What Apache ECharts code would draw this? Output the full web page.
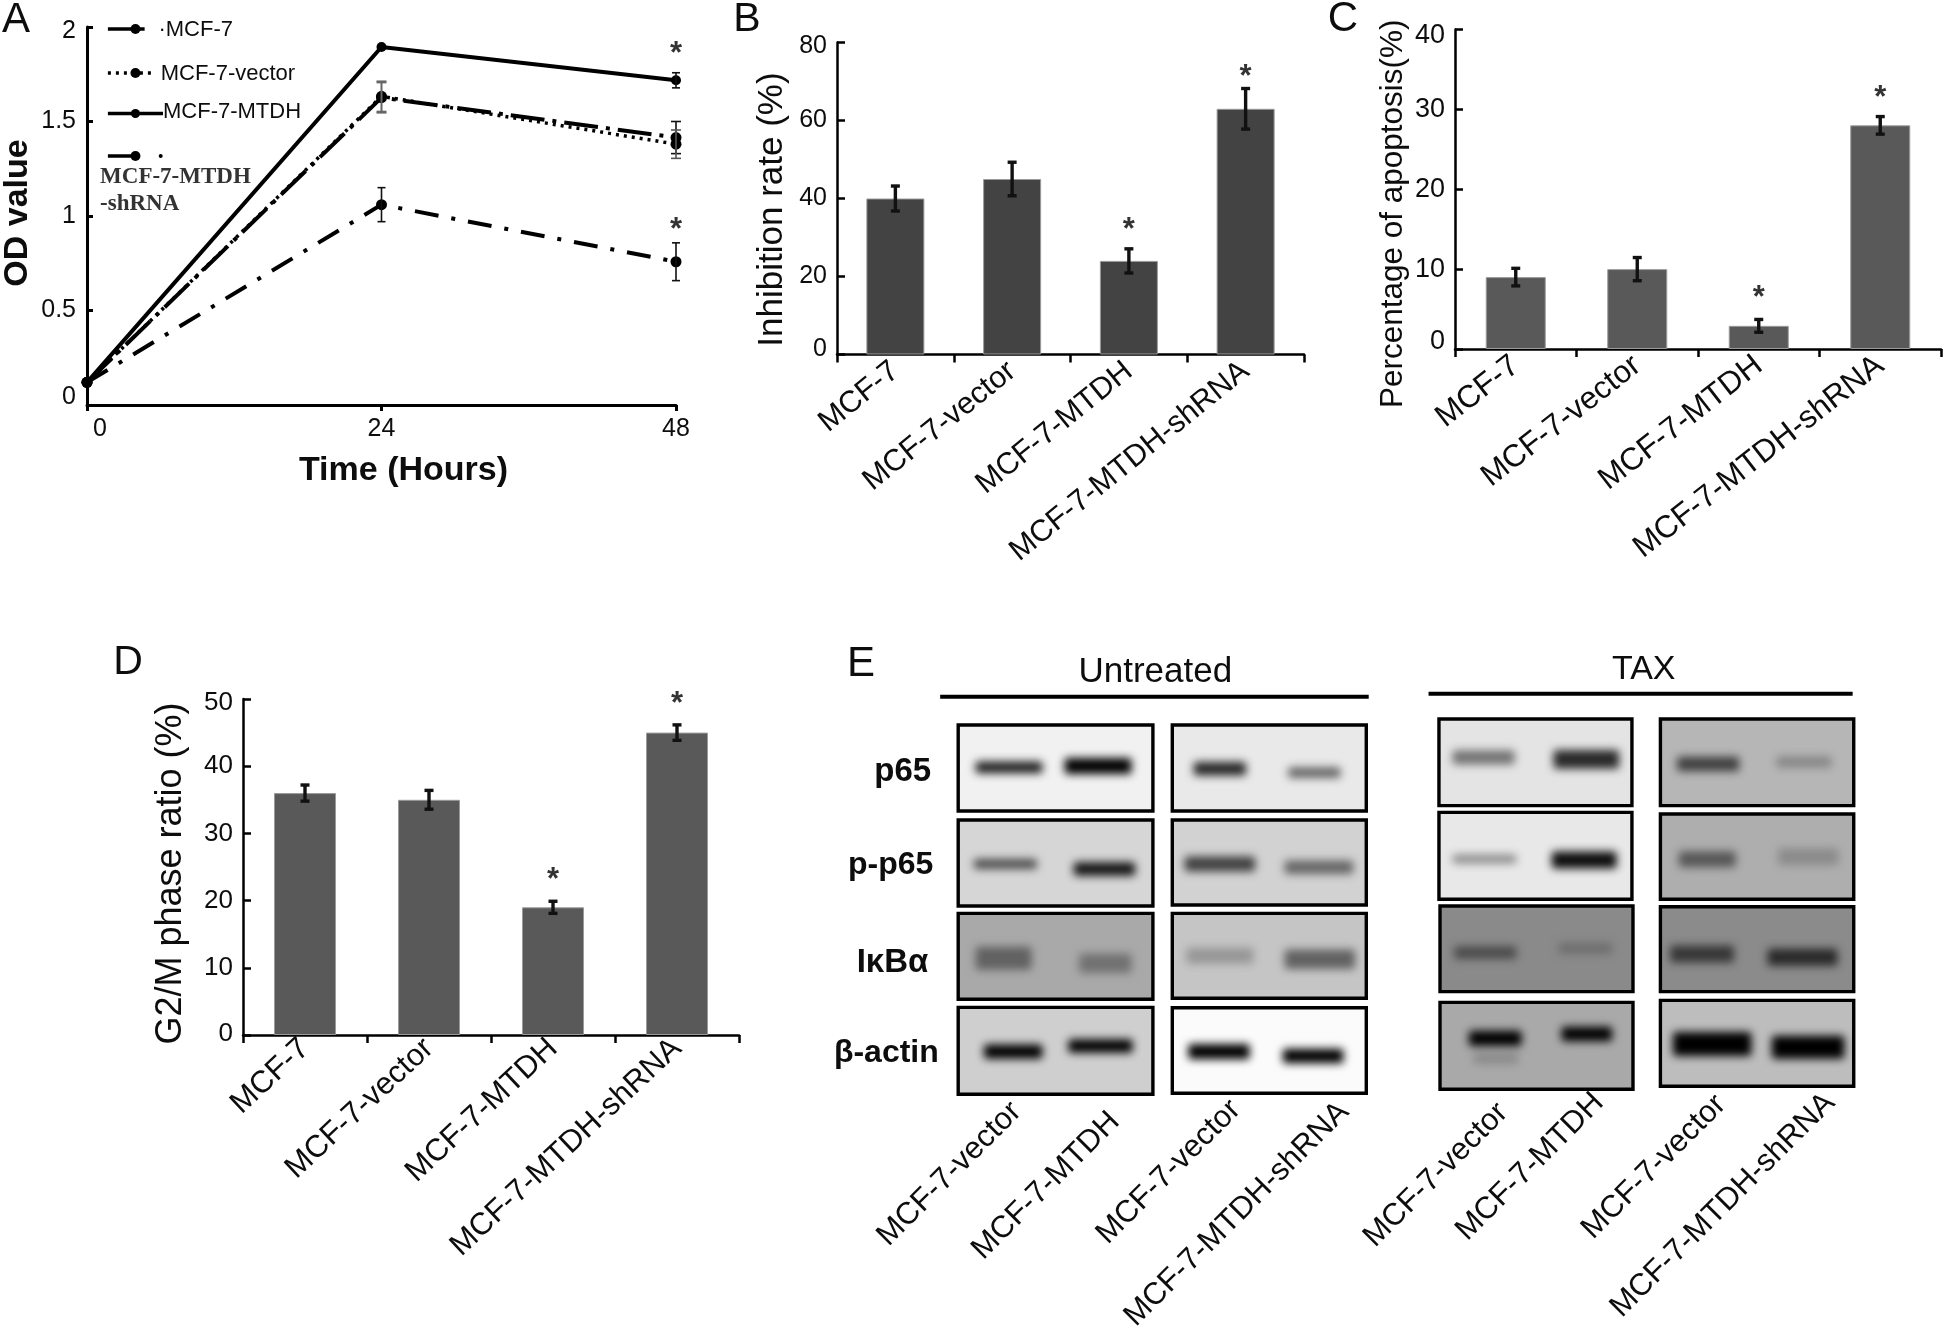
<!DOCTYPE html>
<html>
<head>
<meta charset="utf-8">
<style>html,body{margin:0;padding:0;background:#fff}#c{width:1946px;height:1344px}</style>
<script src="https://cdn.jsdelivr.net/npm/echarts@6/dist/echarts.min.js"></script>
</head>
<body>
<div id="c"></div>
<script>
// ---------- data ----------
const categories = ['MCF-7', 'MCF-7-vector', 'MCF-7-MTDH', 'MCF-7-MTDH-shRNA'];

const timeHours = [0, 24, 48];
const odMcf7 = [0.12, 1.626, 1.415];
const odVector = [0.12, 1.633, 1.38];
const odMtdh = [0.12, 1.894, 1.718];
const odShRna = [0.12, 1.06, 0.758];
const odMcf7Err = [0, 0.08, 0.085];
const odVectorErr = [0, 0.08, 0.075];
const odMtdhErr = [0, 0, 0.04];
const odShRnaErr = [0, 0.09, 0.1];
const odStars = [[48, 1.88], [48, 0.95]];

const inhibition = [40, 45, 24, 63];
const inhibitionErr = [3.2, 4.3, 3.1, 5.2];
const inhibitionStars = [[2, 33.2], [3, 72.2]];

const apoptosis = [9, 10, 2.9, 28];
const apoptosisErr = [1.1, 1.45, 0.8, 1.1];
const apoptosisStars = [[2, 7], [3, 32]];

const g2m = [36, 35, 19, 45];
const g2mErr = [1.2, 1.4, 0.9, 1.15];
const g2mStars = [[2, 23.7], [3, 50]];

// ---------- helpers ----------
const FONT = '"Liberation Sans", Arial, sans-serif';
const INK = '#0d0d0d';
const chart = echarts.init(document.getElementById('c'));

function errorSeries(gi, rows, opt) {
  opt = opt || {};
  return {
    type: 'custom', xAxisIndex: gi, yAxisIndex: gi, z: 5, silent: true,
    encode: { x: 0, y: [1, 2] },
    data: rows,
    renderItem(params, api) {
      const a = api.coord([api.value(0), api.value(1)]);
      const b = api.coord([api.value(0), api.value(2)]);
      const cap = opt.cap || 4.5;
      const color = (opt.colors && opt.colors[api.value(0)]) || opt.color || '#111';
      const lw = opt.width || 3;
      const style = { stroke: color, lineWidth: lw, fill: null };
      return { type: 'group', children: [
        { type: 'line', shape: { x1: a[0], y1: a[1], x2: b[0], y2: b[1] }, style },
        { type: 'line', shape: { x1: a[0] - cap, y1: a[1], x2: a[0] + cap, y2: a[1] }, style },
        { type: 'line', shape: { x1: b[0] - cap, y1: b[1], x2: b[0] + cap, y2: b[1] }, style }
      ]};
    }
  };
}
function rows(xs, vals, errs) {
  return vals.map((v, i) => [xs[i], v - errs[i], v + errs[i]]);
}
function starSeries(gi, data) {
  return {
    type: 'scatter', xAxisIndex: gi, yAxisIndex: gi, symbolSize: 0, z: 6, silent: true, clip: false,
    data,
    label: { show: true, position: 'inside', formatter: '*', color: '#000', fontFamily: FONT,
             fontWeight: 'bold', fontSize: 31, offset: [0, 5] }
  };
}
function barPanel(gi, values, errs, stars, color) {
  const idx = values.map((_, i) => i);
  return [
    { type: 'bar', xAxisIndex: gi, yAxisIndex: gi, data: values, barWidth: gi === 3 ? 62 : (gi === 2 ? 60 : 58),
      itemStyle: { color, borderColor: '#9a9a9a', borderWidth: 1 }, silent: true },
    errorSeries(gi, rows(idx, values, errs), { cap: 4.5, width: 3.4 }),
    starSeries(gi, stars)
  ];
}
function catAxis(gi, rotate, fontSize, padTop, margin) {
  return {
    type: 'category', gridIndex: gi, data: categories,
    axisLine: { lineStyle: { color: '#000', width: 2.5 } },
    axisTick: { show: true, alignWithLabel: false, length: 8, lineStyle: { color: '#000', width: 2.5 } },
    axisLabel: { interval: 0, rotate, fontSize, color: INK, fontFamily: FONT, margin, padding: [padTop, 0, 0, 0] }
  };
}
function valAxis(gi, max, interval, name, nameGap, namePad, fontSize, nameSize, topPad, bottomPad) {
  const base = { fontSize, color: INK, fontFamily: FONT };
  return {
    type: 'value', gridIndex: gi, min: 0, max, interval, name, nameLocation: 'middle', nameGap,
    nameTextStyle: { fontSize: nameSize, color: INK, fontFamily: FONT, padding: namePad },
    splitLine: { show: false },
    axisLine: { show: true, lineStyle: { color: '#000', width: 2.5 } },
    axisTick: { show: true, inside: true, length: 8, lineStyle: { color: '#000', width: 2.5 } },
    axisLabel: { fontSize, color: INK, fontFamily: FONT, margin: 10,
      formatter: v => v === 0 ? '{b|0}' : v === max ? '{t|' + v + '}' : String(v),
      rich: { b: Object.assign({ padding: [0, 0, bottomPad, 0] }, base),
              t: Object.assign({ padding: [topPad, 0, 0, 0] }, base) } }
  };
}

// ---------- panel E (western blots) layout ----------
const ux = x => 830 + x / 2.751, uy = y => 640 + y / 3;
const tx = x => 1400 + x / 2.872, ty = y => 640 + y / 3;

const blotsUntreated = [
  { box: [348, 893, 250, 518], bg: '#f1f1f1', bands: [[395, 590, 382, 34, '#1f1f1f'], [640, 835, 378, 44, '#030303']] },
  { box: [348, 893, 535, 803], bg: '#d6d6d6', bands: [[390, 575, 672, 30, '#4c4c4c'], [665, 845, 687, 38, '#141414']] },
  { box: [348, 893, 815, 1083], bg: '#a9a9a9', bands: [[395, 560, 955, 60, '#626262'], [680, 835, 970, 52, '#727272']] },
  { box: [348, 893, 1097, 1368], bg: '#cfcfcf', bands: [[418, 590, 1235, 40, '#000'], [650, 838, 1218, 38, '#000']] },
  { box: [937, 1480, 250, 518], bg: '#e9e9e9', bands: [[995, 1150, 386, 38, '#262626'], [1255, 1410, 398, 32, '#666']] },
  { box: [937, 1480, 535, 800], bg: '#d2d2d2', bands: [[970, 1175, 672, 42, '#414141'], [1245, 1445, 682, 38, '#666']] },
  { box: [937, 1480, 815, 1080], bg: '#c5c5c5', bands: [[975, 1170, 947, 44, '#979797'], [1245, 1450, 958, 52, '#626262']] },
  { box: [937, 1480, 1098, 1365], bg: '#fbfbfb', bands: [[980, 1160, 1235, 42, '#000'], [1240, 1418, 1248, 40, '#000']] }
];
const blotsTax = [
  { box: [107, 671, 232, 502], bg: '#e4e4e4', bands: [[145, 335, 352, 40, '#737373'], [435, 635, 358, 50, '#2a2a2a']] },
  { box: [107, 671, 512, 783], bg: '#e8e8e8', bands: [[145, 340, 657, 28, '#8c8c8c'], [430, 628, 660, 46, '#0e0e0e']] },
  { box: [110, 674, 793, 1060], bg: '#8a8a8a', bands: [[150, 340, 938, 36, '#4c4c4c'], [450, 615, 925, 32, '#6e6e6e']] },
  { box: [110, 674, 1082, 1353], bg: '#a9a9a9', bands: [[205, 345, 1255, 32, '#8a8a8a'], [192, 355, 1195, 42, '#000'], [458, 615, 1182, 40, '#000']] },
  { box: [743, 1308, 232, 502], bg: '#b6b6b6', bands: [[790, 980, 372, 40, '#404040'], [1075, 1245, 366, 34, '#888']] },
  { box: [743, 1308, 517, 783], bg: '#aeaeae', bands: [[795, 970, 658, 44, '#585858'], [1080, 1265, 650, 46, '#8c8c8c']] },
  { box: [743, 1308, 795, 1060], bg: '#8b8b8b', bands: [[770, 965, 942, 46, '#383838'], [1050, 1262, 952, 46, '#2a2a2a']] },
  { box: [743, 1308, 1076, 1344], bg: '#bdbdbd', bands: [[778, 1015, 1212, 62, '#000'], [1062, 1282, 1222, 60, '#000']] }
];

function txt(text, x, y, o) {
  o = o || {};
  return { type: 'text', x, y, rotation: o.rot || 0, silent: true, z: 20,
    style: { text, fill: o.fill || INK, fontFamily: o.family || FONT, fontSize: o.size || 30,
      fontWeight: o.weight || 'normal', fontStyle: o.style || 'normal',
      textAlign: o.align || 'center', textVerticalAlign: 'middle' } };
}
function blotElements(list, fx, fy) {
  const out = [];
  const OFF = 3000;
  list.forEach(p => {
    const [x1, x2, y1, y2] = p.box;
    out.push({ type: 'rect', silent: true, z: 10,
      shape: { x: fx(x1) + 1.7, y: fy(y1) + 1.7, width: fx(x2) - fx(x1) - 3.4, height: fy(y2) - fy(y1) - 3.4 },
      style: { fill: p.bg, stroke: '#000', lineWidth: 3.4 } });
    p.bands.forEach(b => {
      const h = b[3] / 3 * 1.3, blur = 8;
      out.push({ type: 'rect', silent: true, z: 11,
        shape: { x: fx(b[0]) + 2 - OFF, y: fy(b[2]) - h / 2 + 1.5, width: fx(b[1]) - fx(b[0]) - 4, height: h - 3, r: 3 },
        style: { fill: b[4], shadowColor: b[4], shadowBlur: blur, shadowOffsetX: OFF } });
    });
  });
  return out;
}

// ---------- graphic annotations ----------
const lx = x => x / 2.178;
const graphic = [
  // panel letters
  txt('A', 16, 20, { size: 42 }), txt('B', 747, 20, { size: 41 }), txt('C', 1343, 19, { size: 42 }),
  txt('D', 128, 663, { size: 41 }), txt('E', 861, 664, { size: 42 }),

  // panel A legend
  { type: 'line', silent: true, z: 20, shape: { x1: lx(235), y1: 29, x2: lx(315), y2: 29 }, style: { stroke: '#000', lineWidth: 3.5 } },
  { type: 'circle', silent: true, z: 20, shape: { cx: lx(295), cy: 29, r: 5 }, style: { fill: '#000' } },
  txt('·MCF-7', lx(345), 30, { size: 22, align: 'left' }),
  { type: 'line', silent: true, z: 20, shape: { x1: lx(235), y1: 73, x2: lx(335), y2: 73 }, style: { stroke: '#000', lineWidth: 3.5, lineDash: [3, 5] } },
  { type: 'circle', silent: true, z: 20, shape: { cx: lx(295), cy: 73, r: 5 }, style: { fill: '#000' } },
  txt('MCF-7-vector', lx(350), 74, { size: 22, align: 'left' }),
  { type: 'line', silent: true, z: 20, shape: { x1: lx(235), y1: 113.5, x2: lx(355), y2: 113.5 }, style: { stroke: '#000', lineWidth: 3.5 } },
  { type: 'circle', silent: true, z: 20, shape: { cx: lx(295), cy: 113.5, r: 4.5 }, style: { fill: '#000' } },
  txt('MCF-7-MTDH', lx(355), 112, { size: 22, align: 'left' }),
  { type: 'line', silent: true, z: 20, shape: { x1: lx(235), y1: 156, x2: lx(290), y2: 156 }, style: { stroke: '#000', lineWidth: 3.5 } },
  { type: 'circle', silent: true, z: 20, shape: { cx: lx(295), cy: 156, r: 5 }, style: { fill: '#000' } },
  { type: 'circle', silent: true, z: 20, shape: { cx: lx(350), cy: 156, r: 2 }, style: { fill: '#000' } },
  txt('MCF-7-MTDH', lx(218), 177, { size: 23, align: 'left', weight: 'bold', family: '"Liberation Serif", serif', fill: '#333' }),
  txt('-shRNA', lx(218), 204, { size: 23, align: 'left', weight: 'bold', family: '"Liberation Serif", serif', fill: '#333' }),

  // panel E headers
  txt('Untreated', ux(895), uy(90) + 2, { size: 35 }),
  { type: 'line', silent: true, z: 20, shape: { x1: ux(303), y1: uy(170), x2: ux(1482), y2: uy(170) }, style: { stroke: '#000', lineWidth: 4 } },
  txt('TAX', tx(700), ty(85) + 1, { size: 34 }),
  { type: 'line', silent: true, z: 20, shape: { x1: tx(82), y1: ty(161), x2: tx(1300), y2: ty(161) }, style: { stroke: '#000', lineWidth: 4 } },

  ...blotElements(blotsUntreated, ux, uy),
  ...blotElements(blotsTax, tx, ty),

  // panel E row labels
  txt('p65', ux(200), uy(395), { size: 33, weight: 'bold' }),
  txt('p-p65', ux(167), uy(675), { size: 32, weight: 'bold' }),
  txt('IκBα', ux(172), uy(970), { size: 33, weight: 'bold' }),
  txt('β-actin', ux(155), uy(1240), { size: 32, weight: 'bold' })
];

// panel E lane labels, right end of each rotated text
const laneLabels = [
  ['MCF-7-vector', 1016.5, 1107], ['MCF-7-MTDH', 1114.7, 1117], ['MCF-7-vector', 1235.7, 1105], ['MCF-7-MTDH-shRNA', 1344, 1107],
  ['MCF-7-vector', 1503, 1108], ['MCF-7-MTDH', 1598.7, 1098], ['MCF-7-vector', 1721, 1100], ['MCF-7-MTDH-shRNA', 1830, 1098]
];
laneLabels.forEach(l => graphic.push(txt(l[0], l[1], l[2], { size: 31, align: 'right', rot: Math.PI / 4 })));

// ---------- grids ----------
const grids = [
  { left: 87, top: 27, width: 589, height: 378 },
  { left: 837, top: 42.5, width: 467, height: 312 },
  { left: 1455, top: 29.5, width: 486, height: 319.5 },
  { left: 243, top: 699, width: 496, height: 336 }
];

const axisTickA = { show: true, lineStyle: { color: '#000', width: 3 } };
const option = {
  animation: false,
  backgroundColor: '#fff',
  textStyle: { fontFamily: FONT },
  grid: grids,
  xAxis: [
    { type: 'value', gridIndex: 0, min: 0, max: 48, interval: 24, splitLine: { show: false },
      name: 'Time (Hours)', nameLocation: 'middle', nameGap: 49,
      nameTextStyle: { fontSize: 34, fontWeight: 'bold', color: INK, fontFamily: FONT, padding: [0, 0, 0, 44] },
      axisLine: { lineStyle: { color: '#000', width: 3 } },
      axisTick: Object.assign({ length: 6 }, axisTickA),
      axisLabel: { fontSize: 25, color: INK, fontFamily: FONT, margin: 12,
        formatter: v => v === 0 ? '{z|0}' : String(v),
        rich: { z: { fontSize: 25, color: INK, fontFamily: FONT, padding: [0, 0, 0, 26] } } } },
    catAxis(1, 39, 30.5, 11, 13), catAxis(2, 38, 31.5, 34, 13), catAxis(3, 43, 31, 15, 9)
  ],
  yAxis: [
    { type: 'value', gridIndex: 0, min: 0, max: 2, interval: 0.5, splitLine: { show: false },
      name: 'OD value', nameLocation: 'middle', nameGap: 52,
      nameTextStyle: { fontSize: 34, fontWeight: 'bold', color: INK, fontFamily: FONT, padding: [0, 0, 0, 6] },
      axisLine: { show: true, lineStyle: { color: '#000', width: 3 } },
      axisTick: Object.assign({ length: 6, inside: true }, axisTickA),
      axisLabel: { fontSize: 25, color: INK, fontFamily: FONT, margin: 11,
        formatter: v => v === 0 ? '{b|0}' : v === 2 ? '{t|2}' : String(v),
        rich: { b: { fontSize: 25, color: INK, fontFamily: FONT, padding: [0, 0, 16, 0] },
                t: { fontSize: 25, color: INK, fontFamily: FONT, padding: [8, 0, 0, 0] } } } },
    valAxis(1, 80, 20, 'Inhibition rate (%)', 47, [0, 22, 0, 0], 25, 35, 8, 10),
    valAxis(2, 40, 10, 'Percentage of apoptosis(%)', 46, [0, 49, 0, 0], 27, 31.5, 12, 14),
    valAxis(3, 50, 10, 'G2/M phase ratio (%)', 54, [0, 13, 0, 0], 26, 36, 8, 2)
  ],
  graphic: { elements: graphic },
  series: [
    { name: 'MCF-7', type: 'line', xAxisIndex: 0, yAxisIndex: 0, data: timeHours.map((t, i) => [t, odMcf7[i]]),
      symbol: 'circle', symbolSize: 11, clip: false, itemStyle: { color: '#000' },
      lineStyle: { color: '#000', width: 4, type: [34, 8, 4, 8] } },
    { name: 'MCF-7-vector', type: 'line', xAxisIndex: 0, yAxisIndex: 0, data: timeHours.map((t, i) => [t, odVector[i]]),
      symbol: 'circle', symbolSize: 11, clip: false, itemStyle: { color: '#000' },
      lineStyle: { color: '#000', width: 3.5, type: [3, 5] } },
    { name: 'MCF-7-MTDH', type: 'line', xAxisIndex: 0, yAxisIndex: 0, data: timeHours.map((t, i) => [t, odMtdh[i]]),
      symbol: 'circle', symbolSize: 10, clip: false, itemStyle: { color: '#000' },
      lineStyle: { color: '#000', width: 4 } },
    { name: 'MCF-7-MTDH-shRNA', type: 'line', xAxisIndex: 0, yAxisIndex: 0, data: timeHours.map((t, i) => [t, odShRna[i]]),
      symbol: 'circle', symbolSize: 11, clip: false, itemStyle: { color: '#000' },
      lineStyle: { color: '#000', width: 4, type: [24, 13, 4, 13] } },
    errorSeries(0, rows(timeHours, odMcf7, odMcf7Err).slice(1), { cap: 5, width: 1.6, colors: { 24: '#666' } }),
    errorSeries(0, rows(timeHours, odVector, odVectorErr).slice(1), { cap: 5, width: 1.6, colors: { 24: '#666', 48: '#555' } }),
    errorSeries(0, rows(timeHours, odMtdh, odMtdhErr).slice(2), { cap: 4, width: 1.6 }),
    errorSeries(0, rows(timeHours, odShRna, odShRnaErr).slice(1), { cap: 4, width: 1.6 }),
    starSeries(0, odStars),
    ...barPanel(1, inhibition, inhibitionErr, inhibitionStars, '#434343'),
    ...barPanel(2, apoptosis, apoptosisErr, apoptosisStars, '#595959'),
    ...barPanel(3, g2m, g2mErr, g2mStars, '#595959')
  ]
};
chart.setOption(option);
</script>
</body>
</html>
